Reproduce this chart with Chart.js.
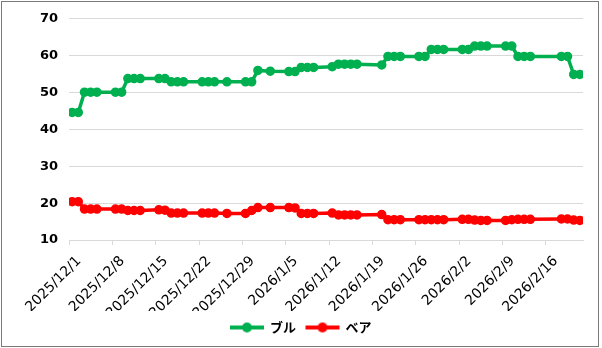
<!DOCTYPE html>
<html>
<head>
<meta charset="utf-8">
<script src="https://cdn.jsdelivr.net/npm/chart.js@4/dist/chart.umd.min.js"></script>
<style>
  html, body { margin: 0; padding: 0; background: #fff; }
  #wrap { position: relative; width: 602px; height: 348px; }
  #frame { position: absolute; left: 1px; top: 1px; width: 598px; height: 346px; box-sizing: border-box; border: 1px solid #7a7a7a; }
  #c { position: absolute; left: 0; top: 0; }
</style>
</head>
<body>
<div id="wrap">
  <div id="frame"></div>
  <canvas id="c" width="602" height="348"></canvas>
</div>
<script>
// Trading days
const dates = [
  '2025-12-01','2025-12-02','2025-12-03','2025-12-04','2025-12-05',
  '2025-12-08','2025-12-09','2025-12-10','2025-12-11','2025-12-12',
  '2025-12-15','2025-12-16','2025-12-17','2025-12-18','2025-12-19',
  '2025-12-22','2025-12-23','2025-12-24','2025-12-26',
  '2025-12-29','2025-12-30','2025-12-31','2026-01-02',
  '2026-01-05','2026-01-06','2026-01-07','2026-01-08','2026-01-09',
  '2026-01-12','2026-01-13','2026-01-14','2026-01-15','2026-01-16',
  '2026-01-20','2026-01-21','2026-01-22','2026-01-23',
  '2026-01-26','2026-01-27','2026-01-28','2026-01-29','2026-01-30',
  '2026-02-02','2026-02-03','2026-02-04','2026-02-05','2026-02-06',
  '2026-02-09','2026-02-10','2026-02-11','2026-02-12','2026-02-13',
  '2026-02-18','2026-02-19','2026-02-20','2026-02-21'
];

// ブル (%)
const bull = [
  44.6, 44.6, 50.1, 50.1, 50.1,
  50.1, 50.1, 53.8, 53.8, 53.8,
  53.8, 53.8, 52.9, 52.9, 52.9,
  52.9, 52.9, 52.9, 52.9,
  52.9, 52.9, 56.0, 55.8,
  55.7, 55.7, 56.8, 56.8, 56.8,
  57.0, 57.7, 57.7, 57.7, 57.7,
  57.5, 59.8, 59.8, 59.8,
  59.8, 59.8, 61.7, 61.7, 61.7,
  61.7, 61.7, 62.6, 62.6, 62.6,
  62.6, 62.6, 59.8, 59.8, 59.8,
  59.8, 59.8, 54.9, 54.9
];

// ベア (%)
const bear = [
  20.4, 20.4, 18.4, 18.4, 18.4,
  18.4, 18.4, 18.0, 18.0, 18.0,
  18.2, 18.1, 17.3, 17.3, 17.3,
  17.3, 17.3, 17.3, 17.2,
  17.2, 18.0, 18.8, 18.8,
  18.8, 18.7, 17.2, 17.2, 17.2,
  17.3, 16.8, 16.8, 16.8, 16.8,
  16.9, 15.5, 15.5, 15.5,
  15.5, 15.5, 15.5, 15.5, 15.5,
  15.6, 15.6, 15.4, 15.3, 15.3,
  15.3, 15.5, 15.6, 15.6, 15.6,
  15.7, 15.7, 15.4, 15.3
];

// Weekly date ticks
const tickDates = [
  '2025-12-01','2025-12-08','2025-12-15','2025-12-22','2025-12-29',
  '2026-01-05','2026-01-12','2026-01-19','2026-01-26',
  '2026-02-02','2026-02-09','2026-02-16'
];

const seriesNames = ['ブル', 'ベア'];
const seriesColors = ['#00b050', '#ff0000'];

const DAY = 86400000;
const origin = Date.parse(dates[0] + 'T00:00:00Z');
const dayIndex = s => (Date.parse(s + 'T00:00:00Z') - origin) / DAY;
// each day occupies a one-day slot; points sit in its middle
const toPoints = vals => dates.map((d, i) => ({ x: dayIndex(d) + 0.5, y: vals[i] }));
const fmtDate = v => {
  const d = new Date(origin + Math.round(v) * DAY);
  return d.getUTCFullYear() + '/' + (d.getUTCMonth() + 1) + '/' + d.getUTCDate();
};

// legend swatch: a short line with a marker in the middle
function swatch(color) {
  const c = document.createElement('canvas');
  c.width = 36; c.height = 12;
  const g = c.getContext('2d');
  g.strokeStyle = color; g.lineWidth = 4;
  g.beginPath(); g.moveTo(1, 6); g.lineTo(35, 6); g.stroke();
  g.fillStyle = color;
  g.beginPath(); g.arc(18, 6, 5, 0, Math.PI * 2); g.fill();
  return c;
}

const series = [bull, bear].map((vals, i) => ({
  label: seriesNames[i],
  data: toPoints(vals),
  borderColor: seriesColors[i],
  backgroundColor: seriesColors[i],
  borderWidth: 3.5,
  pointRadius: 4,
  pointBorderWidth: 1.5,
  pointHoverRadius: 4,
  tension: 0
}));

new Chart(document.getElementById('c'), {
  type: 'line',
  data: { datasets: series },
  options: {
    responsive: false,
    animation: false,
    layout: { padding: { left: 0, right: 0, top: 15, bottom: 4 } },
    plugins: {
      tooltip: { enabled: false },
      legend: {
        position: 'bottom',
        labels: {
          usePointStyle: true,
          pointStyleWidth: 33,
          padding: 10,
          color: '#000',
          font: { family: '"Noto Sans CJK JP", sans-serif', size: 13, weight: 'bold' },
          generateLabels(chart) {
            const items = Chart.defaults.plugins.legend.labels.generateLabels(chart);
            items.forEach((it, i) => { it.pointStyle = swatch(seriesColors[i]); });
            return items;
          }
        }
      }
    },
    scales: {
      x: {
        type: 'linear',
        min: 0,
        max: dayIndex(dates[dates.length - 1]) + 1,
        afterBuildTicks(scale) {
          scale.ticks = tickDates.map(d => ({ value: dayIndex(d) }));
        },
        afterFit(scale) { scale.height = 71; },
        grid: { drawOnChartArea: false, drawTicks: true, tickLength: 5, color: '#d9d9d9' },
        border: { color: '#d9d9d9', width: 1 },
        ticks: {
          autoSkip: false,
          minRotation: 45,
          maxRotation: 45,
          labelOffset: 10,
          padding: 8,
          color: '#000',
          font: { family: '"DejaVu Sans", sans-serif', size: 14 },
          callback: v => fmtDate(v)
        }
      },
      y: {
        min: 10,
        max: 70,
        afterFit(scale) { scale.width = 69; },
        grid: { drawTicks: false, color: '#d9d9d9', lineWidth: 1 },
        border: { display: false },
        ticks: {
          stepSize: 10,
          padding: 11,
          color: '#000',
          font: { family: '"DejaVu Sans", sans-serif', size: 13, weight: 'bold' }
        }
      },
      // empty right margin strip
      yRight: {
        position: 'right',
        afterFit(scale) { scale.width = 19; },
        grid: { display: false },
        border: { display: false },
        ticks: { display: false }
      }
    }
  }
});
</script>
</body>
</html>
